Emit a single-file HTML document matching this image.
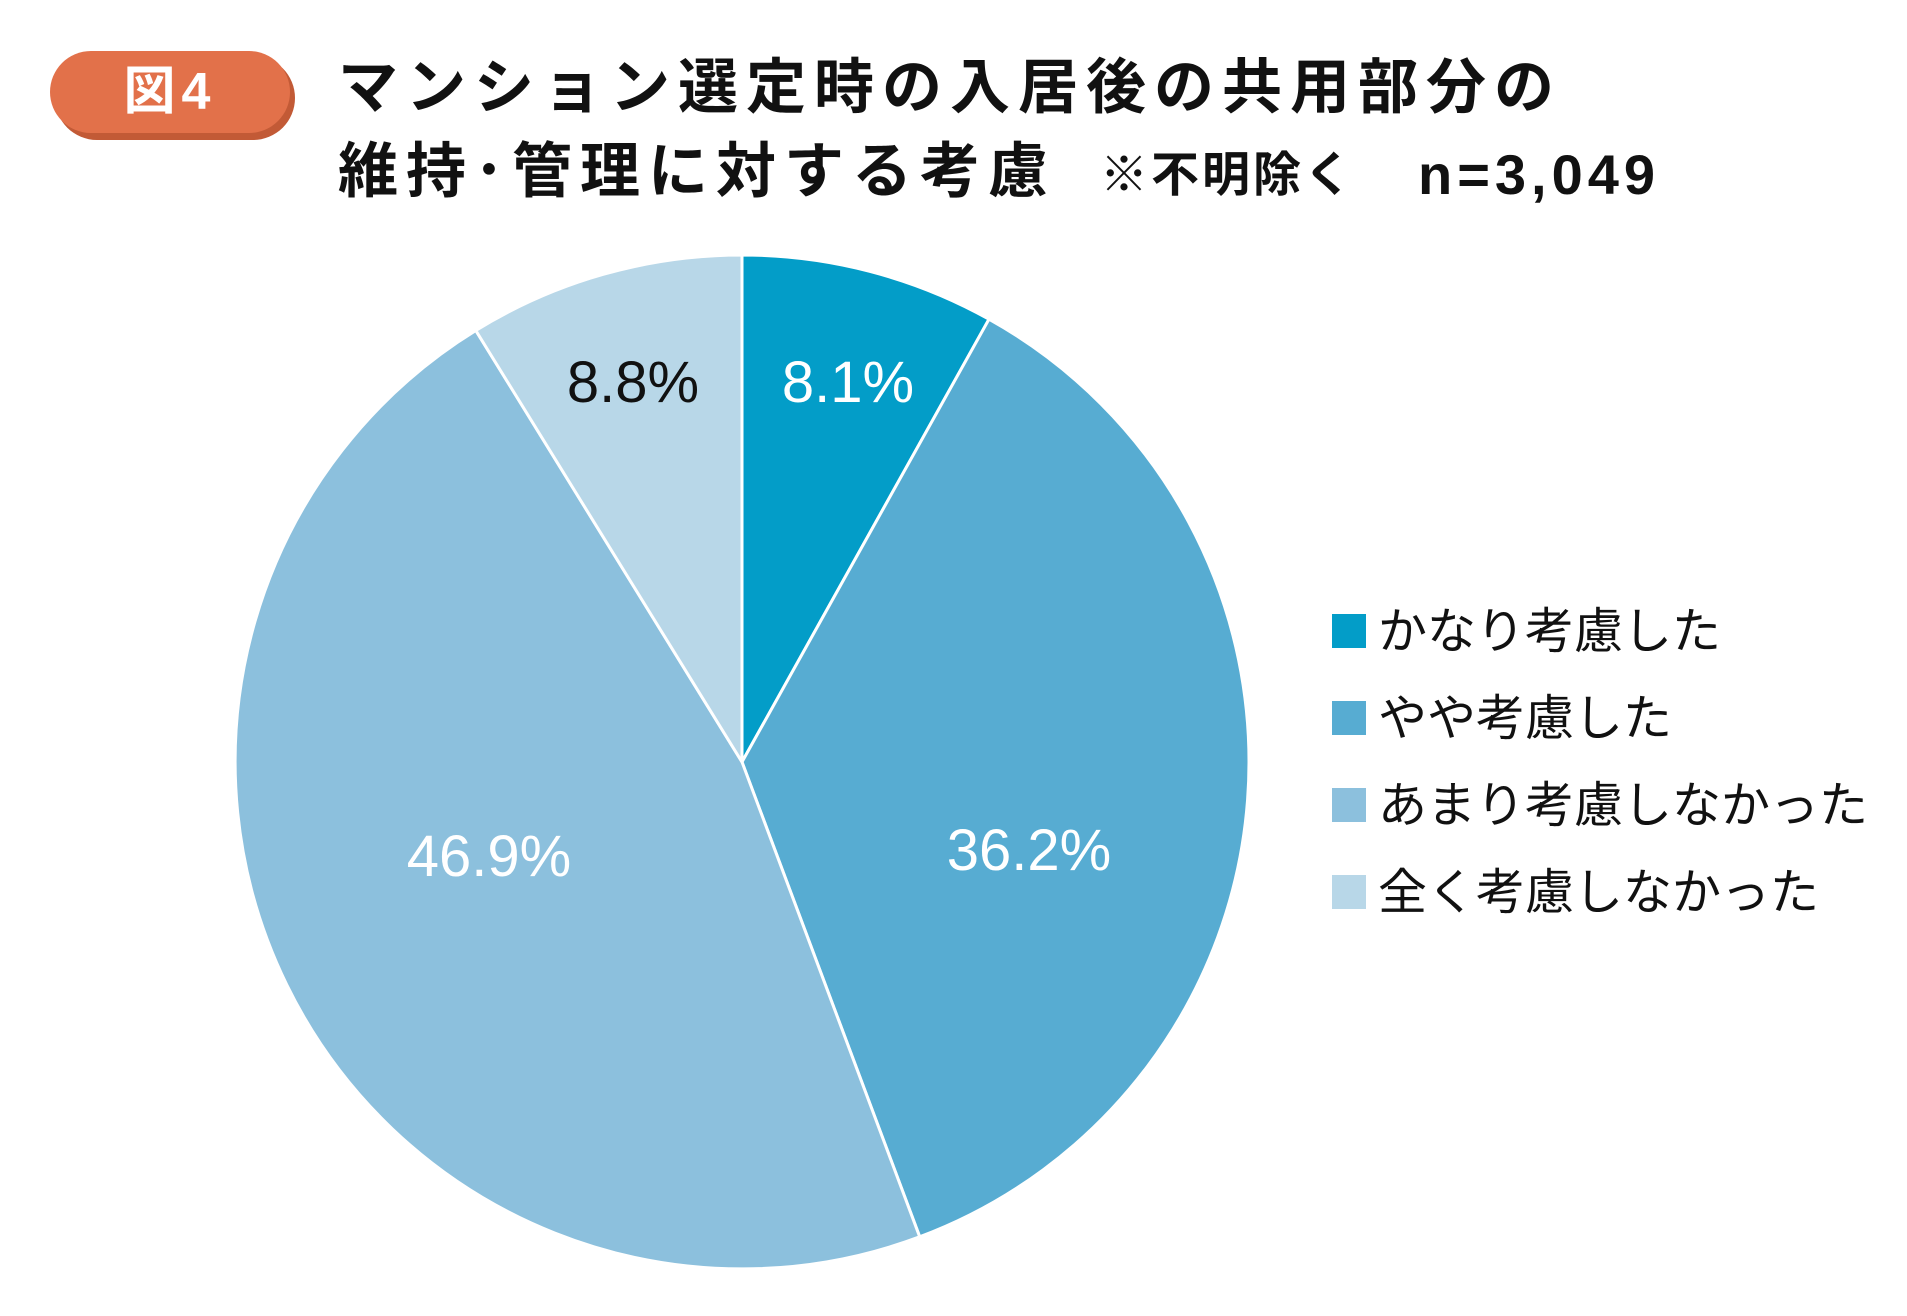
<!DOCTYPE html>
<html><head><meta charset="utf-8"><style>
body{margin:0;width:1907px;height:1316px;background:#fff;overflow:hidden;position:relative;font-family:"Liberation Sans","Noto Sans CJK JP",sans-serif}
.t{position:absolute;white-space:nowrap}
</style></head><body>
<div style="position:absolute;left:55px;top:56px;width:240px;height:84px;border-radius:42px;background:#c25a36"></div>
<div style="position:absolute;left:50px;top:51px;width:240px;height:82px;border-radius:41px;background:#e2714a"></div>
<div class="t" style="left:50px;top:55px;width:240px;text-align:center;color:#fff;font-size:52px;font-weight:bold;line-height:74px;letter-spacing:6px">図4</div>
<div class="t" style="left:338px;top:52px;font-size:60px;font-weight:bold;line-height:72px;color:#111;letter-spacing:8px">マンション選定時の入居後の共用部分の</div>
<div class="t" style="left:338px;top:136px;font-size:60px;font-weight:bold;line-height:72px;color:#111;letter-spacing:8px">維持･管理に対する考慮</div>
<div class="t" style="left:1100px;top:146px;font-size:48px;font-weight:bold;line-height:60px;color:#111;letter-spacing:3px">※不明除く</div>
<div class="t" style="left:1418px;top:142px;font-size:56px;font-weight:bold;line-height:66px;color:#111;letter-spacing:5px">n=3,049</div>
<svg style="position:absolute;left:0;top:0" width="1907" height="1316">
<g stroke="#fff" stroke-width="3">
<path d="M742,762 L742,255 A507,507 0 0 1 989,319.2 Z" fill="#039dc8"/>
<path d="M742,762 L989,319.2 A507,507 0 0 1 919.7,1236.8 Z" fill="#57acd2"/>
<path d="M742,762 L919.7,1236.8 A507,507 0 0 1 475.8,330.5 Z" fill="#8cc0dd"/>
<path d="M742,762 L475.8,330.5 A507,507 0 0 1 742,255 Z" fill="#b8d7e8"/>
</g>
<g font-family="Liberation Sans, sans-serif" font-size="58" text-anchor="middle">
<text x="633" y="402" fill="#111">8.8%</text>
<text x="848" y="402" fill="#fff">8.1%</text>
<text x="1029" y="870" fill="#fff">36.2%</text>
<text x="489" y="876" fill="#fff">46.9%</text>
</g>
<rect x="1332" y="614" width="34" height="34" fill="#039dc8"/>
<rect x="1332" y="701" width="34" height="34" fill="#57acd2"/>
<rect x="1332" y="788" width="34" height="34" fill="#8cc0dd"/>
<rect x="1332" y="875" width="34" height="34" fill="#b8d7e8"/>
<g font-family="Liberation Sans, Noto Sans CJK JP, sans-serif" font-size="49" fill="#111">
<text x="1378" y="648">かなり考慮した</text>
<text x="1378" y="735">やや考慮した</text>
<text x="1378" y="822">あまり考慮しなかった</text>
<text x="1378" y="909">全く考慮しなかった</text>
</g>
</svg>
</body></html>
